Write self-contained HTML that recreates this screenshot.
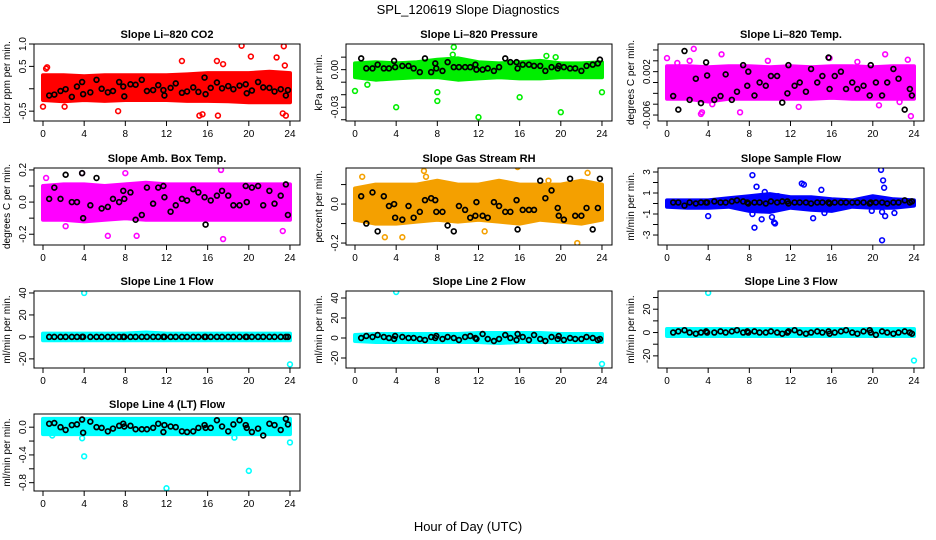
<!DOCTYPE html>
<html><head><meta charset="utf-8"><style>
body{margin:0;background:#fff;}
svg{display:block;font-family:"Liberation Sans",sans-serif;}
</style></head><body>
<svg id="chart" width="936" height="540" viewBox="0 0 936 540">
<text x="468" y="14" text-anchor="middle" font-size="13">SPL_120619  Slope Diagnostics</text>
<text x="468" y="531" text-anchor="middle" font-size="13">Hour of Day (UTC)</text>
</svg>
<script>
// shared hours
const xTicks=[0,4,8,12,16,20,24];
const bandHours=[0,2,4,6,8,10,12,14,16,18,20,22,24];
const blackHours=[0.6,1.1,1.7,2.2,2.8,3.3,3.8,3.9,4.6,5.2,5.7,6.3,6.8,7.4,7.8,7.9,8.5,9.0,9.6,10.1,10.7,11.2,11.7,11.8,12.4,12.9,13.5,14.0,14.6,15.1,15.7,15.8,16.3,16.9,17.4,18.0,18.5,19.1,19.7,19.8,20.3,20.9,21.4,22.0,22.5,23.1,23.6,23.8];

// panel 1 CO2
const co2Lo=[-0.25,-0.28,-0.25,-0.27,-0.25,-0.25,-0.25,-0.27,-0.27,-0.28,-0.3,-0.3,-0.3];
const co2Hi=[0.3,0.3,0.28,0.3,0.3,0.3,0.3,0.32,0.35,0.35,0.35,0.38,0.35];
const co2OutX=[0,0.3,0.4,2.1,7.3,13.5,15.2,15.5,16.9,19.3,20.2,22.7,23.4,23.5,23.6,23.3,17.0,17.5];
const co2OutY=[-0.4,0.45,0.48,-0.4,-0.5,0.62,-0.6,-0.57,0.62,0.96,0.72,0.7,0.95,0.52,-0.6,-0.55,-0.6,0.55];
const co2Black=[-0.15,-0.13,-0.05,-0.01,-0.18,0.05,0.15,-0.12,-0.08,0.2,0,-0.08,-0.05,0.15,0.05,-0.17,0.1,0.09,0.2,-0.05,-0.03,0.08,-0.03,-0.15,0.02,0.12,-0.09,-0.06,0.03,-0.07,0.25,-0.12,0.02,0.14,0.01,0.06,-0.01,0.07,0.1,-0.1,-0.04,0.15,0.03,0.02,-0.06,-0.01,-0.15,-0.03];
// panel 2 pressure
const presLo=[-0.006,-0.008,-0.007,-0.006,-0.006,-0.008,-0.007,-0.006,-0.007,-0.007,-0.006,-0.006,-0.006];
const presHi=[0.005,0.006,0.005,0.006,0.008,0.009,0.006,0.005,0.006,0.007,0.005,0.005,0.006];
const presOutX=[0,4,8,8.0,12,16,20,24,9.6,9.5,18.6,19.5,1.2];
const presOutY=[-0.017,-0.030,-0.025,-0.018,-0.038,-0.022,-0.034,-0.018,0.018,0.012,0.011,0.010,-0.012];
const presBlack=[0.009,0.001,0.001,0.004,0.001,0.001,0.007,0.002,0.003,0.003,0.001,-0.002,0.009,-0.002,0.005,0.001,-0.001,0.006,0.002,0.002,0.002,0.002,0.004,0,0,0.001,-0.001,0.002,0.009,0.006,0.006,0.001,0.004,0.004,0.003,0.003,-0.001,0.002,0.001,0.003,0.002,0.001,0.001,-0.001,0.003,0.004,0.005,0.008];
// panel 3 temp
const tempLo=[-0.003,-0.003,-0.0035,-0.003,-0.003,-0.003,-0.003,-0.003,-0.0028,-0.003,-0.003,-0.003,-0.003];
const tempHi=[0.003,0.003,0.0028,0.003,0.003,0.0028,0.003,0.0028,0.003,0.003,0.0028,0.003,0.003];
const tempOutX=[0,2.6,3.4,3.3,5.3,7.1,21.2,23.4,23.7,20.6,15.8,2.2,1.0,4.4,9.8,12.8,18.5,22.6];
const tempOutY=[0.0045,0.0062,-0.0055,-0.0058,0.0052,-0.0055,0.0052,0.0042,-0.0062,-0.0042,0.0045,0.004,0.0036,-0.0040,0.0040,-0.0045,0.0038,-0.0036];
const tempBlack=[-0.0025,-0.005,0.0058,-0.0032,0.0007,-0.0038,0.0037,0.0013,-0.0032,-0.0025,0.0015,-0.0032,-0.0017,0.0032,-0.0006,0.0020,-0.0024,0,-0.0006,0.0012,0.0012,-0.0037,-0.002,0.0032,-0.0006,0,-0.0017,0.0025,0,0.0012,0.0046,-0.0012,0.0012,0.0020,-0.0012,0,-0.0012,-0.0006,-0.0024,0.0032,0,-0.0024,0,0.0025,0.0007,-0.0050,-0.0012,-0.0024];
// panel 4 box temp
const boxLo=[-0.11,-0.11,-0.12,-0.11,-0.1,-0.11,-0.11,-0.11,-0.11,-0.11,-0.11,-0.11,-0.11];
const boxHi=[0.1,0.11,0.11,0.1,0.11,0.12,0.11,0.11,0.11,0.11,0.11,0.11,0.11];
const boxOutX=[0.3,2.2,6.3,9.1,17.5,17.3,23.3,3.8,8.0];
const boxOutY=[0.15,-0.15,-0.21,-0.21,-0.23,0.2,-0.18,0.18,0.18];
const boxBlack=[0.02,0.09,0.02,0.17,0,0,0.18,-0.1,-0.02,0.15,-0.04,-0.03,0.02,0,0.07,0.02,0.06,-0.11,-0.08,0.09,-0.01,0.09,0.1,0.03,-0.06,-0.02,0.02,0.01,0.08,0.06,0.03,-0.14,0.01,0.04,0.07,0.04,-0.02,-0.02,0.1,0,0.09,0.1,-0.02,0.07,-0.01,0.04,0.11,-0.08];
// panel 5 RH
const rhLo=[-0.08,-0.1,-0.1,-0.09,-0.08,-0.09,-0.08,-0.09,-0.1,-0.08,-0.09,-0.1,-0.08];
const rhHi=[0.08,0.1,0.1,0.1,0.12,0.1,0.1,0.12,0.1,0.1,0.1,0.12,0.1];
const rhOutX=[0.7,2.9,4.6,6.7,6.9,15.8,12.6,21.6,22.6,18.8];
const rhOutY=[0.14,-0.17,-0.17,0.17,0.14,0.19,-0.14,-0.2,0.16,0.12];
const rhBlack=[0.04,-0.1,0.06,-0.14,0.04,-0.01,0,-0.07,-0.08,-0.01,-0.07,-0.04,0.02,0.03,0.02,-0.04,-0.04,-0.11,-0.14,-0.01,-0.03,-0.07,-0.06,0.01,-0.06,-0.07,0.01,-0.01,-0.04,-0.04,0.02,-0.13,-0.03,-0.03,-0.03,0.12,0.03,0.07,-0.02,-0.06,-0.08,0.13,-0.06,-0.06,-0.02,-0.13,-0.02,0.13];
// panel 6 sample flow
const sfLo=[-0.3,-0.4,-0.4,-0.3,-0.7,-0.8,-0.4,-0.6,-0.7,-0.3,-0.4,-0.4,-0.2];
const sfHi=[0.3,0.3,0.3,0.5,0.7,0.9,0.6,0.6,0.4,0.3,0.7,0.4,0.3];
const sfOutX=[4,8.3,8.5,8.7,9.2,9.5,9.8,10.2,10.4,10.5,10.8,11,13.1,13.3,14.2,15,15.3,20.8,20.9,21,21.1,21.2,20.9,22.1,19.9,8.3];
const sfOutY=[-1.2,2.7,-2.3,1.6,-1.5,1.1,0.6,-1.3,-1.8,-1.9,0.7,0.4,1.9,1.8,-1.4,1.3,-0.9,3.2,-3.5,2.2,1.5,-1.2,-0.8,-0.9,-0.7,-1.0];
const sfBlack=[0.1,0.1,-0.2,0.1,0,0.1,0.1,0.1,0.2,0.1,0.1,0.2,0.3,0.2,0.1,0,0.1,0.1,0,0.2,0.1,0.2,0.2,0,0.1,0.1,0.1,0,0.1,0.1,0.1,0,0.1,0.1,0.1,0.1,0.1,0.1,0,0.1,0.1,0.1,0,0.1,0.1,0.3,0.1,0.2];
// panel 7 line 1
const l1Lo=[-3,-3,-3,-3,-3,-3,-3,-3,-3,-3,-3,-3,-3];
const l1Hi=[3,3,3,3,3,4,3,3,3,3,3,3,3];
const l1OutX=[4,24];
const l1OutY=[40,-25];
const l1Black=[0,0,0,0,0,0,0,0,0,0,0,0,0,0,0,0,0,0,0,0,0,0,0,0,0,0,0,0,0,0,0,0,0,0,0,0,0,0,0,0,0,0,0,0,0,0,0,0];
// panel 8 line 2
const l2Lo=[-3,-4,-4,-4,-4,-4,-4,-5,-4,-4,-4,-4,-4];
const l2Hi=[3,4,4,4,4,4,5,5,5,5,4,4,4];
const l2OutX=[4,24];
const l2OutY=[46,-26];
const l2Black=[0,2,1,3,1,0,-1,2,1,0,0,-1,-2,1,0,2,-1,1,0,-2,1,2,0,-1,4,-1,-3,-1,3,0,-2,4,1,-2,3,-1,-3,1,-1,2,-2,0,-1,-1,1,0,-2,-1];
// panel 9 line 3
const l3Lo=[-3,-3,-3,-3,-3,-3,-3,-3,-3,-3,-3,-3,-3];
const l3Hi=[3,3,3,3,3,3,3,3,3,3,3,3,3];
const l3OutX=[4,24];
const l3OutY=[34,-24];
const l3Black=[0,1,2,0,-1,0,1,0,0,1,0,1,2,0,1,0,1,0,0,1,0,-1,0,1,2,0,-1,0,1,0,1,-1,0,1,2,0,-1,1,2,0,-2,1,0,-1,0,1,0,-1];
// panel 10 line 4
const l4Lo=[-0.1,-0.1,-0.1,-0.1,-0.1,-0.1,-0.1,-0.1,-0.1,-0.1,-0.1,-0.1,-0.1];
const l4Hi=[0.12,0.12,0.12,0.12,0.12,0.12,0.12,0.12,0.12,0.12,0.12,0.12,0.12];
const l4OutX=[4,12,20,24,3.8,18.6,0.9];
const l4OutY=[-0.42,-0.88,-0.63,-0.22,-0.16,-0.15,-0.12];
const l4Black=[0.05,0.06,0,-0.04,0.03,0.04,0.11,-0.08,0.08,0,-0.01,-0.06,-0.02,0.02,0.05,0.01,0.02,-0.03,-0.03,-0.03,-0.01,0.05,-0.07,0.03,0.01,0,-0.06,-0.07,-0.06,-0.01,0.03,-0.01,-0.01,0.1,0.01,-0.06,0.04,0.1,0.03,-0.01,-0.07,-0.02,-0.12,0.05,0.03,-0.04,0.12,0.04];

const NS="http://www.w3.org/2000/svg";
const svg=document.getElementById('chart');
function mk(tag,attrs,parent){const e=document.createElementNS(NS,tag);for(const k in attrs)e.setAttribute(k,attrs[k]);(parent||svg).appendChild(e);return e;}

const colsX=[34,346,658], W=266, rowsY=[44,168,291,414], H=77;
const panels=[
 {slug:'co2',title:'Slope Li–820 CO2',ylab:'Licor ppm per min.',dom:[-0.72,1.0],ticks:[-0.5,0,0.5,1.0],labs:['-0.5','','0.5','1.0'],col:'#ff0000',lo:co2Lo,hi:co2Hi,ox:co2OutX,oy:co2OutY,bk:co2Black},
 {slug:'pressure',title:'Slope Li–820 Pressure',ylab:'kPa per min.',dom:[-0.041,0.0205],ticks:[-0.04,-0.03,-0.02,-0.01,0,0.01],labs:['','-0.03','','','0.00',''],col:'#00ee00',lo:presLo,hi:presHi,ox:presOutX,oy:presOutY,bk:presBlack},
 {slug:'temp',title:'Slope Li–820 Temp.',ylab:'degrees C per min.',dom:[-0.0071,0.0071],ticks:[-0.006,-0.004,-0.002,0,0.002,0.004,0.006],labs:['-0.006','','','','0.002','',''],col:'#ff00ff',lo:tempLo,hi:tempHi,ox:tempOutX,oy:tempOutY,bk:tempBlack},
 {slug:'box-temp',title:'Slope Amb. Box Temp.',ylab:'degrees C per min.',dom:[-0.267,0.212],ticks:[-0.2,-0.1,0,0.1,0.2],labs:['-0.2','','0.0','','0.2'],col:'#ff00ff',lo:boxLo,hi:boxHi,ox:boxOutX,oy:boxOutY,bk:boxBlack},
 {slug:'rh',title:'Slope Gas Stream RH',ylab:'percent per min.',dom:[-0.21,0.185],ticks:[-0.2,-0.1,0,0.1],labs:['-0.2','','0.0',''],col:'#f4a000',lo:rhLo,hi:rhHi,ox:rhOutX,oy:rhOutY,bk:rhBlack},
 {slug:'sample-flow',title:'Slope Sample Flow',ylab:'ml/min per min.',dom:[-3.95,3.38],ticks:[-3,-2,-1,0,1,2,3],labs:['-3','','-1','','1','','3'],col:'#0000ff',lo:sfLo,hi:sfHi,ox:sfOutX,oy:sfOutY,bk:sfBlack},
 {slug:'line1',title:'Slope Line 1 Flow',ylab:'ml/min per min.',dom:[-28.3,41.8],ticks:[-20,0,20,40],labs:['-20','0','20','40'],col:'#00ffff',lo:l1Lo,hi:l1Hi,ox:l1OutX,oy:l1OutY,bk:l1Black},
 {slug:'line2',title:'Slope Line 2 Flow',ylab:'ml/min per min.',dom:[-30,47],ticks:[-20,0,20,40],labs:['-20','0','20','40'],col:'#00ffff',lo:l2Lo,hi:l2Hi,ox:l2OutX,oy:l2OutY,bk:l2Black},
 {slug:'line3',title:'Slope Line 3 Flow',ylab:'ml/min per min.',dom:[-30.4,35.6],ticks:[-20,-10,0,10,20,30],labs:['-20','','0','','20',''],col:'#00ffff',lo:l3Lo,hi:l3Hi,ox:l3OutX,oy:l3OutY,bk:l3Black},
 {slug:'line4',title:'Slope Line 4 (LT) Flow',ylab:'ml/min per min.',dom:[-0.92,0.19],ticks:[-0.8,-0.6,-0.4,-0.2,0],labs:['-0.8','','-0.4','','0.0'],col:'#00ffff',lo:l4Lo,hi:l4Hi,ox:l4OutX,oy:l4OutY,bk:l4Black}
];

panels.forEach((p,i)=>{
  const bx=colsX[i%3], by=rowsY[Math.floor(i/3)];
  const g=mk('g',{});
  
  
  const X=h=>bx+(h+0.875)/25.85*W;
  const Y=v=>by+H-(v-p.dom[0])/(p.dom[1]-p.dom[0])*H;
  const cp='clip'+i;
  const c=mk('clipPath',{id:cp},g);mk('rect',{x:bx,y:by,width:W,height:H},c);
  const t=mk('text',{x:bx+W/2,y:by-6,'text-anchor':'middle','font-size':11,'font-weight':'bold'},g);t.textContent=p.title;
  
  
  const yl=mk('text',{transform:`translate(${bx-24},${by+H/2}) rotate(-90)`,'text-anchor':'middle','font-size':10},g);yl.textContent=p.ylab;
  
  
  const data=mk('g',{'clip-path':`url(#${cp})`},g);
  let d='';
  bandHours.forEach((h,k)=>{d+=(k?'L':'M')+X(h).toFixed(1)+','+Y(p.hi[k]).toFixed(1);});
  for(let k=bandHours.length-1;k>=0;k--)d+='L'+X(bandHours[k]).toFixed(1)+','+Y(p.lo[k]).toFixed(1);
  const band=mk('path',{d:d+'Z',fill:p.col,stroke:p.col,'stroke-width':4,'stroke-linejoin':'round'},data);
  
  
  p.ox.forEach((h,k)=>{
    const o=mk('circle',{cx:X(h),cy:Y(p.oy[k]),r:2.4,fill:'none',stroke:p.col,'stroke-width':1.6},data);
    
    
  });
  const n=Math.min(blackHours.length,p.bk.length);
  for(let k=0;k<n;k++){
    const b=mk('circle',{cx:X(blackHours[k]),cy:Y(p.bk[k]),r:2.4,fill:'none',stroke:'#000','stroke-width':1.7},data);
    
    
  }
  const box=mk('rect',{x:bx,y:by,width:W,height:H,fill:'none',stroke:'#000','stroke-width':1},g);
  
  
  mk('line',{x1:X(0),x2:X(24),y1:by+H,y2:by+H,stroke:'#000'},g);
  xTicks.forEach(h=>{
    mk('line',{x1:X(h),x2:X(h),y1:by+H,y2:by+H+5,stroke:'#000'},g);
    const tl=mk('text',{x:X(h),y:by+H+16,'text-anchor':'middle','font-size':10},g);tl.textContent=h;
    
    
  });
  mk('line',{x1:bx,x2:bx,y1:Y(p.ticks[0]),y2:Y(p.ticks[p.ticks.length-1]),stroke:'#000'},g);
  p.ticks.forEach((v,k)=>{
    mk('line',{x1:bx-5,x2:bx,y1:Y(v),y2:Y(v),stroke:'#000'},g);
    if(p.labs[k]){
      const tl=mk('text',{transform:`translate(${bx-8},${Y(v)}) rotate(-90)`,'text-anchor':'middle','font-size':10},g);tl.textContent=p.labs[k];
      
      
    }
  });
});
</script>
</body></html>
